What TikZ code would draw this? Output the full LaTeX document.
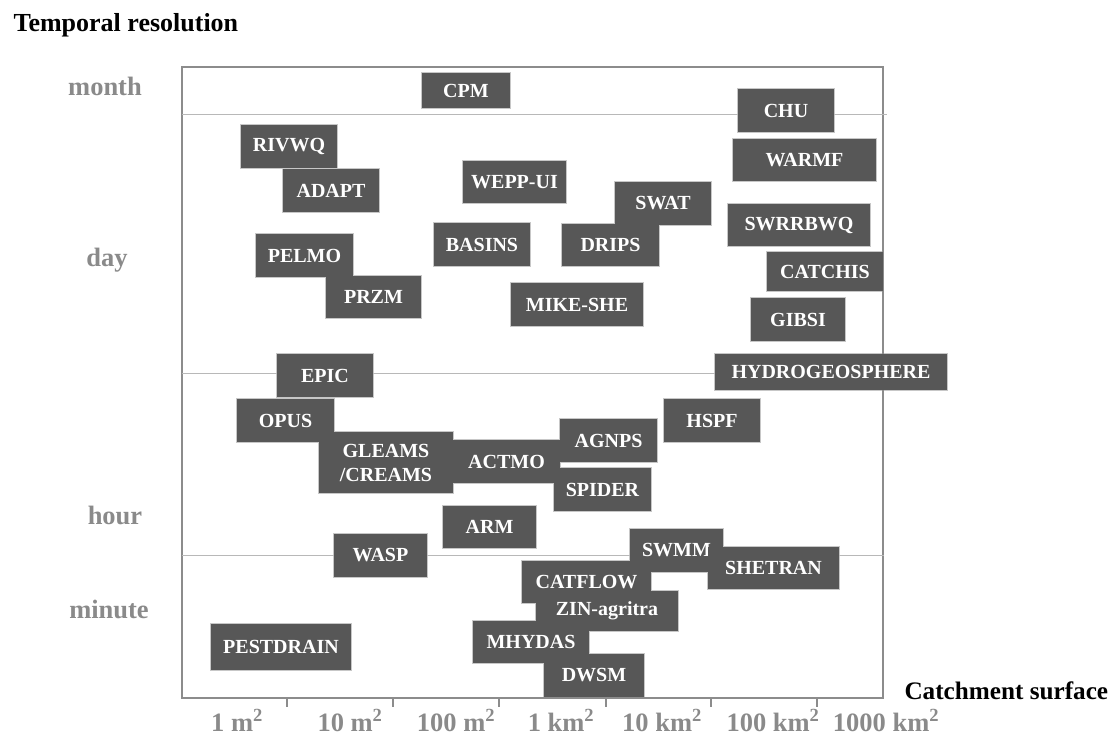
\documentclass[tikz,border=0pt]{standalone}
\usepackage{fontspec}
\setmainfont{Liberation Serif}
\usetikzlibrary{backgrounds}
\definecolor{boxgray}{HTML}{575757}
\definecolor{labelgray}{HTML}{8A8A8A}

\begin{document}
\begin{tikzpicture}[
  x=1pt, y=-1pt,
  model/.style={fill=boxgray, text=white, inner sep=0pt, align=center,
                minimum width=96pt, minimum height=43pt,
                font=\fontsize{20}{24}\selectfont\bfseries},
  scalelabel/.style={text=labelgray, anchor=base,
                font=\fontsize{26.5}{30}\selectfont\bfseries},
  axistitle/.style={text=black, anchor=base west,
                font=\fontsize{26}{30}\selectfont\bfseries},
  edge/.style={draw=black!22, line width=2pt},
  level/.style={draw=black!28, line width=1pt}]
 \useasboundingbox (0,0) rectangle (1113,736);
 % frame, axis ticks and time levels
 \draw[draw=black!45, line width=1.5pt] (182,67) rectangle (883,698);
 \foreach \x in {287,393,499,606,711,817}
   \draw[draw=black!45, line width=1.5pt] (\x,698) -- (\x,707);
 \draw[level] (182,114) -- (887,114);
 \draw[level] (182,373) -- (883,373);
 \draw[level] (182,555) -- (884,555);
 \node[axistitle] (ttl) at (10,31) {Temporal resolution};
 \node[axistitle, font=\fontsize{25.2}{28}\selectfont\bfseries] (xttl) at (901,699) {Catchment surface};
 \node[scalelabel] (month) at (105,95) {month};
 \node[scalelabel] (day) at (107,266) {day};
 \node[scalelabel] (hour) at (115,524) {hour};
 \node[scalelabel] (minute) at (109,618) {minute};
 \foreach \x/\t [count=\i] in {237/1 m,350/10 m,456/100 m,561/1 km,662/10 km,773/100 km,886/1000 km}
   \node[scalelabel] (s\i) at (\x,731) {\t\textsuperscript{2}};
 % models
 \node[model, minimum width=88pt, minimum height=35pt] (cpm) at (466,90.5) {CPM};
 \node[model] (chu) at (786,110.5) {CHU};
 \node[model] (rivwq) at (289,146.5) {RIVWQ};
 \node[model, minimum width=143pt, minimum height=42pt] (warmf) at (804.5,160) {WARMF};
 \node[model] (adapt) at (331,190.5) {ADAPT};
 \node[model, minimum width=103pt, minimum height=42pt] (wepp) at (514.5,182) {WEPP-UI};
 \node[model] (swat) at (663,203.5) {SWAT};
 \node[model, minimum width=142pt, minimum height=42pt] (swrrbwq) at (799,225) {SWRRBWQ};
 \node[model] (basins) at (482,244.5) {BASINS};
 \node[model, minimum width=97pt, minimum height=42pt] (drips) at (610.5,245) {DRIPS};
 \node[model, minimum width=97pt] (pelmo) at (304.5,255.5) {PELMO};
 \node[model, minimum width=116pt, minimum height=39pt] (catchis) at (825,271.5) {CATCHIS};
 \node[model, minimum width=95pt, minimum height=42pt] (przm) at (373.5,297) {PRZM};
 \node[model, minimum width=132pt] (mikeshe) at (577,304.5) {MIKE-SHE};
 \node[model, minimum width=94pt] (gibsi) at (798,319.5) {GIBSI};
 \node[model] (epic) at (325,375.5) {EPIC};
 \node[model, minimum width=232pt, minimum height=36pt] (hydro) at (831,372) {HYDROGEOSPHERE};
 \node[model, minimum width=97pt] (opus) at (285.5,420.5) {OPUS};
 \node[model] (hspf) at (712,420.5) {HSPF};
 \node[model, minimum width=134pt, minimum height=61pt] (gleams) at (386,462.5) {GLEAMS\\/CREAMS};
 \node[model, minimum width=107pt] (actmo) at (506.5,461.5) {ACTMO};
 \node[model, minimum width=97pt] (agnps) at (608.5,440.5) {AGNPS};
 \node[model, minimum width=97pt] (spider) at (602.5,489.5) {SPIDER};
 \node[model, minimum width=93pt, minimum height=42pt] (arm) at (489.5,527) {ARM};
 \node[model, minimum width=93pt] (wasp) at (380.5,555.5) {WASP};
 \node[model, minimum width=93pt] (swmm) at (676.5,550.5) {SWMM};
 \node[model, minimum width=131pt, minimum height=42pt] (shetran) at (773.5,568) {SHETRAN};
 \node[model, minimum width=129pt, minimum height=42pt] (catflow) at (586.5,582) {CATFLOW};
 \node[model, minimum width=142pt, minimum height=40pt] (zin) at (607,611) {ZIN-agritra};
 \node[model, minimum width=140pt, minimum height=46pt] (pestdrain) at (281,647) {PESTDRAIN};
 \node[model, minimum width=116pt, minimum height=42pt] (mhydas) at (531,642) {MHYDAS};
 \node[model, minimum width=100pt] (dwsm) at (594,675.5) {DWSM};
 % thin rims, merged where boxes touch
 \begin{scope}[on background layer]
  \foreach \n in {cpm,chu,rivwq,warmf,adapt,wepp,swat,swrrbwq,basins,drips,pelmo,
                  catchis,przm,mikeshe,gibsi,epic,hydro,opus,hspf,gleams,actmo,agnps,
                  spider,arm,wasp,swmm,shetran,catflow,zin,pestdrain,mhydas,dwsm}
    \draw[edge] (\n.north west) rectangle (\n.south east);
 \end{scope}
\end{tikzpicture}
\end{document}
